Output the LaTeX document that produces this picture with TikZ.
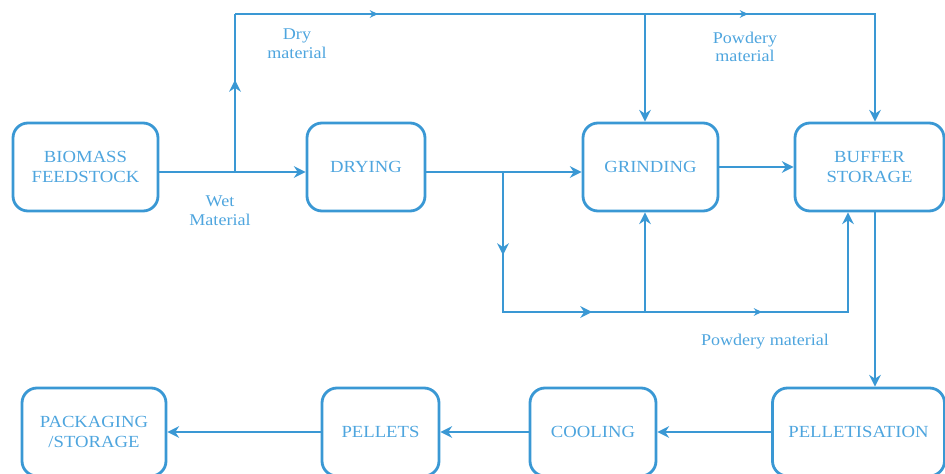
\documentclass[tikz,border=0pt]{standalone}
\usepackage{fontspec}
\setmainfont{Liberation Serif}[FakeStretch=1.1]
\usepackage{tikz}
\usetikzlibrary{arrows.meta}
\definecolor{flowblue}{RGB}{58,152,212}
\definecolor{textblue}{RGB}{78,165,222}

\begin{document}
\begin{tikzpicture}[
            x=0.03cm, y=-0.03cm,
            box/.style={draw=flowblue, line width=2.4pt, rounded corners=0.45cm, minimum height=2.64cm,
                text=textblue, align=center, font=\fontsize{14.5}{17}\selectfont, inner sep=2pt},
            pipe/.style={draw=flowblue, line width=2.4pt},
            flow/.style={pipe, -{Stealth[length=10pt,width=10pt]}},
            smalltip/.style={pipe, -{Stealth[length=7pt,width=6.5pt]}},
            tag/.style={text=textblue, align=center, font=\fontsize{14}{16}\selectfont}
        ]

            \useasboundingbox (0,0) rectangle (945,474);
            \clip (0,0) rectangle (945,474);

            \node[box, minimum width=4.35cm] (bio) at (85.5,167) {BIOMASS\\FEEDSTOCK};
            \node[box, minimum width=3.54cm] (dry) at (366,167) {DRYING};
            \node[box, minimum width=4.05cm] (grind) at (650.5,167) {GRINDING};
            \node[box, minimum width=4.47cm] (buffer) at (869.5,167) {BUFFER\\STORAGE};
            \node[box, minimum width=4.32cm] (pack) at (94,432) {PACKAGING\\/STORAGE};
            \node[box, minimum width=3.51cm] (pellets) at (380.5,432) {PELLETS};
            \node[box, minimum width=3.78cm] (cool) at (593,432) {COOLING};
            \node[box, minimum width=5.16cm] (pelt) at (858.5,432) {PELLETISATION};

            \coordinate (wj) at (235,172);
            \coordinate (tl) at (235,14);
            \coordinate (tg) at (645,14);
            \coordinate (tb) at (875,14);
            \coordinate (dj) at (503,172);
            \coordinate (bl) at (503,312);
            \coordinate (bg) at (645,312);
            \coordinate (bb) at (848,312);
            \coordinate (wm) at (235,80);
            \coordinate (dm) at (503,255);
            \coordinate (t1) at (378,14);
            \coordinate (t2) at (748,14);
            \coordinate (b1) at (592,312);
            \coordinate (b2) at (762,312);

            \draw[flow] ([yshift=-0.15cm]bio.east) -- ([yshift=-0.15cm]dry.west);
            \draw[pipe] (wj) -- (tl);
            \draw[flow] (wj) -- (wm);
            \draw[flow] (tl) -- (tb) -- (tb |- buffer.north);
            \draw[flow] (tg) -- (tg |- grind.north);
            \draw[smalltip] (tl) -- (t1);
            \draw[smalltip] (tl) -- (t2);

            \draw[flow] ([yshift=-0.15cm]dry.east) -- ([yshift=-0.15cm]grind.west);
            \draw[flow] (dj) -- (bl) -- (bb) -- (bb |- buffer.south);
            \draw[flow] (dj) -- (dm);
            \draw[flow] (bl) -- (b1);
            \draw[smalltip] (bl) -- (b2);
            \draw[flow] (bg) -- (bg |- grind.south);

            \draw[flow] (grind) -- (buffer);
            \draw[flow] (tb |- buffer.south) -- (tb |- pelt.north);
            \draw[flow] (pelt) -- (cool);
            \draw[flow] (cool) -- (pellets);
            \draw[flow] (pellets) -- (pack);

            \node[tag] (drylbl) at (297,44) {Dry\\material};
            \node[tag] (wetlbl) at (220,211) {Wet\\Material};
            \node[tag] (powtop) at (745,47) {Powdery\\material};
            \node[tag] (powbot) at (765,342) {Powdery material};
        \end{tikzpicture}
\end{document}
